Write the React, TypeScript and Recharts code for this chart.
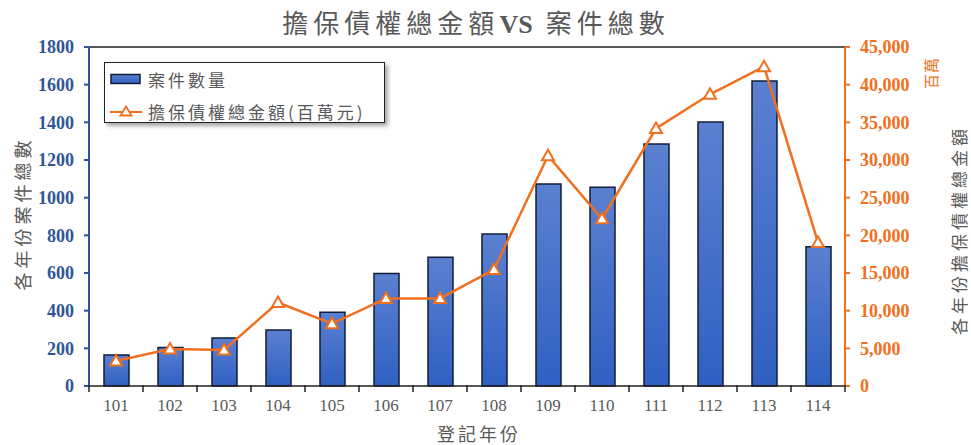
import React from 'react';
import {
  ComposedChart,
  Bar,
  Line,
  XAxis,
  YAxis,
  ReferenceLine,
} from 'recharts';

const YEARS = ['101', '102', '103', '104', '105', '106', '107', '108', '109', '110', '111', '112', '113', '114'];
const CASES = [165, 204, 255, 297, 391, 598, 683, 807, 1073, 1055, 1285, 1402, 1620, 740];
const AMOUNTS = [3320, 4900, 4780, 11080, 8270, 11620, 11620, 15460, 30560, 22200, 34180, 38720, 42390, 19050];
const LEFT_TICKS = [0, 200, 400, 600, 800, 1000, 1200, 1400, 1600, 1800];
const RIGHT_TICKS = [0, 5000, 10000, 15000, 20000, 25000, 30000, 35000, 40000, 45000];

const TITLE_CJK_1 = '擔保債權總金額';
const TITLE_VS = 'VS';
const TITLE_CJK_2 = '案件總數';
const BAR_NAME = '案件數量';
const LINE_NAME = '擔保債權總金額(百萬元)';
const LEFT_LABEL = '各年份案件總數';
const RIGHT_LABEL = '各年份擔保債權總金額';
const RIGHT_UNIT = '百萬';
const X_LABEL = '登記年份';

const data = YEARS.map((y, i) => ({ year: y, cases: CASES[i], amount: AMOUNTS[i] }));

const W = 971;
const H = 445;
const TOP = 47;
const LEFT_W = 89;
const RIGHT_W = 126;
const X_H = 59;
const PLOT_W = W - LEFT_W - RIGHT_W;

const BLUE = '#2F5597';
const ORANGE = '#F07020';
const GRAY = '#595959';
const SERIF = '"Liberation Serif", "Times New Roman", serif';
const CJK = '"Noto Sans CJK TC", "Noto Sans CJK SC", sans-serif';

const XTick = (props: any) => {
  const { x, y, payload, index } = props;
  const half = PLOT_W / YEARS.length / 2;
  return (
    <g>
      <line x1={x - half} x2={x - half} y1={y - 1} y2={y + 6} stroke="#222" strokeWidth={1.5} />
      {index === YEARS.length - 1 && (
        <line x1={x + half} x2={x + half} y1={y - 1} y2={y + 6} stroke="#222" strokeWidth={1.5} />
      )}
      <text x={x} y={y + 25} textAnchor="middle" fill={GRAY} fontSize={17} fontFamily={SERIF}>
        {payload.value}
      </text>
    </g>
  );
};

const Triangle = (props: any) => {
  const { cx, cy } = props;
  if (cx == null || cy == null) return null;
  return (
    <polygon
      points={`${cx},${cy - 6} ${cx - 6},${cy + 4.5} ${cx + 6},${cy + 4.5}`}
      fill="#fff"
      stroke={ORANGE}
      strokeWidth={2}
    />
  );
};

const LeftLabel = (props: any) => {
  const vb = props.viewBox || { x: 0, y: TOP, width: LEFT_W, height: 339 };
  const cx = vb.x + 22;
  const cy = vb.y + vb.height / 2 - 3;
  return (
    <text
      x={cx}
      y={cy}
      transform={`rotate(-90, ${cx}, ${cy})`}
      textAnchor="middle"
      dominantBaseline="central"
      fill={GRAY}
      fontSize={18}
      letterSpacing={4}
      fontFamily={CJK}
    >
      {LEFT_LABEL}
    </text>
  );
};

const RightLabel = (props: any) => {
  const vb = props.viewBox || { x: W - RIGHT_W, y: TOP, width: RIGHT_W, height: 339 };
  const cx = vb.x + 113;
  const cy = vb.y + 183;
  const ux = vb.x + 85;
  const uy = vb.y + 26;
  return (
    <g>
      <text
        x={cx}
        y={cy}
        transform={`rotate(-90, ${cx}, ${cy})`}
        textAnchor="middle"
        dominantBaseline="central"
        fill={GRAY}
        fontSize={17}
        letterSpacing={4}
        fontFamily={CJK}
      >
        {RIGHT_LABEL}
      </text>
      <text
        x={ux}
        y={uy}
        transform={`rotate(-90, ${ux}, ${uy})`}
        textAnchor="middle"
        dominantBaseline="central"
        fill={ORANGE}
        fontSize={15}
        letterSpacing={1}
        fontFamily={CJK}
      >
        {RIGHT_UNIT}
      </text>
    </g>
  );
};

const XLabel = (props: any) => {
  const vb = props.viewBox || { x: LEFT_W, y: H - X_H, width: PLOT_W, height: X_H };
  return (
    <text
      x={vb.x + vb.width / 2 + 12}
      y={vb.y + 47}
      textAnchor="middle"
      dominantBaseline="central"
      fill={GRAY}
      fontSize={18}
      letterSpacing={3}
      fontFamily={CJK}
    >
      {X_LABEL}
    </text>
  );
};

export default function App() {
  return (
    <div style={{ position: 'absolute', left: 0, top: 0, width: W, height: H, background: '#fff' }}>
      <div
        style={{
          position: 'absolute',
          left: 0,
          top: 6,
          width: 952,
          textAlign: 'center',
          fontSize: 26,
          lineHeight: '32px',
          color: GRAY,
          letterSpacing: 5,
          fontFamily: CJK,
          fontWeight: 400,
          whiteSpace: 'nowrap',
        }}
      >
        <span>{TITLE_CJK_1}</span>
        <span style={{ fontFamily: SERIF, fontWeight: 700, letterSpacing: 0 }}>{TITLE_VS}&nbsp;&nbsp;</span>
        <span>{TITLE_CJK_2}</span>
      </div>
      <ComposedChart
        width={W}
        height={H}
        data={data}
        margin={{ top: TOP, right: 0, bottom: 0, left: 0 }}
        barSize={25}
      >
        <defs>
          <linearGradient id="barGrad" x1="0" y1="0" x2="0" y2="1">
            <stop offset="0%" stopColor="#5B80D0" />
            <stop offset="100%" stopColor="#2F60C2" />
          </linearGradient>
        </defs>
        <XAxis
          dataKey="year"
          height={X_H}
          tickLine={false}
          tickSize={0}
          tickMargin={0}
          axisLine={{ stroke: '#222', strokeWidth: 1.5 }}
          tick={<XTick />}
          interval={0}
          label={<XLabel />}
        />
        <YAxis
          yAxisId="left"
          width={LEFT_W}
          domain={[0, 1800]}
          ticks={LEFT_TICKS}
          interval={0}
          axisLine={{ stroke: BLUE, strokeWidth: 2 }}
          tickLine={{ stroke: BLUE, strokeWidth: 2 }}
          tickSize={5}
          tickMargin={10}
          tick={{ fill: BLUE, fontSize: 18, fontWeight: 700, fontFamily: SERIF }}
          label={<LeftLabel />}
        />
        <YAxis
          yAxisId="right"
          orientation="right"
          width={RIGHT_W}
          domain={[0, 45000]}
          ticks={RIGHT_TICKS}
          interval={0}
          tickFormatter={(v: number) => v.toLocaleString('en-US')}
          axisLine={{ stroke: ORANGE, strokeWidth: 2 }}
          tickLine={{ stroke: ORANGE, strokeWidth: 2 }}
          tickSize={5}
          tickMargin={10}
          tick={{ fill: ORANGE, fontSize: 18, fontWeight: 700, fontFamily: SERIF, textAnchor: 'start' }}
          label={<RightLabel />}
        />
        <ReferenceLine yAxisId="left" y={1800} stroke="#222" strokeWidth={1.5} />
        <Bar
          yAxisId="left"
          dataKey="cases"
          name={BAR_NAME}
          fill="url(#barGrad)"
          stroke="#101C38"
          strokeWidth={1.5}
          isAnimationActive={false}
        />
        <Line
          yAxisId="right"
          dataKey="amount"
          name={LINE_NAME}
          type="linear"
          stroke={ORANGE}
          strokeWidth={2.5}
          dot={<Triangle />}
          activeDot={false}
          isAnimationActive={false}
        />
      </ComposedChart>
      <div
        style={{
          position: 'absolute',
          left: 104,
          top: 62,
          width: 279,
          height: 59,
          border: '1.5px solid #222',
          background: '#fff',
          boxShadow: '3px 3px 4px rgba(0,0,0,0.35)',
          fontFamily: CJK,
          fontSize: 17,
          color: GRAY,
          letterSpacing: 3,
        }}
      >
        <div style={{ position: 'absolute', left: 5, top: 4, height: 24, display: 'flex', alignItems: 'center', whiteSpace: 'nowrap' }}>
          <svg width={32} height={12} style={{ marginRight: 6 }}>
            <defs>
              <linearGradient id="legendGrad" x1="0" y1="0" x2="0" y2="1">
                <stop offset="0%" stopColor="#5B80D0" />
                <stop offset="100%" stopColor="#2F60C2" />
              </linearGradient>
            </defs>
            <rect x={1} y={1.5} width={29} height={9} fill="url(#legendGrad)" stroke="#101C38" strokeWidth={1.5} />
          </svg>
          <span>{BAR_NAME}</span>
        </div>
        <div style={{ position: 'absolute', left: 5, top: 36, height: 24, display: 'flex', alignItems: 'center', whiteSpace: 'nowrap' }}>
          <svg width={32} height={14} style={{ marginRight: 6 }}>
            <line x1={0} x2={32} y1={8} y2={8} stroke={ORANGE} strokeWidth={2} />
            <polygon points="16,2.5 10.5,11.5 21.5,11.5" fill="#fff" stroke={ORANGE} strokeWidth={1.8} />
          </svg>
          <span>{LINE_NAME}</span>
        </div>
      </div>
    </div>
  );
}
